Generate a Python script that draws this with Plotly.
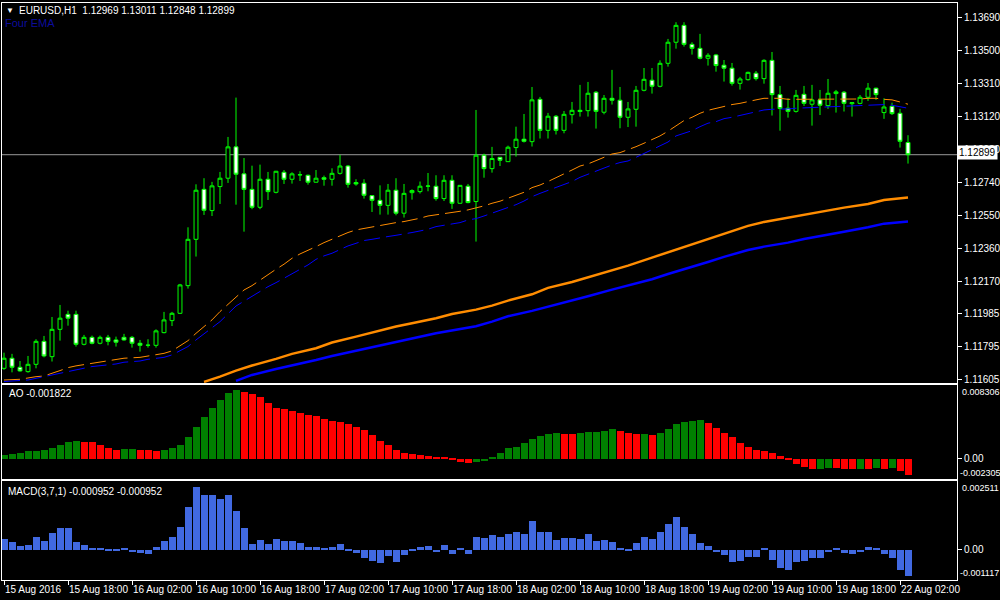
import plotly.graph_objects as go
from plotly.subplots import make_subplots

# EURUSD H1 bars, 15 Aug 10:00 .. 22 Aug 03:00 (index = bar number)
opens = [1.11672, 1.11730, 1.11678, 1.11653, 1.11695, 1.11827, 1.11739, 1.11896, 1.11982, 1.11982,
         1.11810, 1.11850, 1.11816, 1.11850, 1.11835, 1.11850, 1.11850, 1.11816, 1.11804, 1.11804,
         1.11877, 1.11946, 1.11988, 1.12147, 1.12413, 1.12700, 1.12578, 1.12716, 1.12764, 1.12944,
         1.12789, 1.12700, 1.12597, 1.12758, 1.12683, 1.12798, 1.12758, 1.12783, 1.12781, 1.12741,
         1.12767, 1.12758, 1.12792, 1.12834, 1.12739, 1.12735, 1.12664, 1.12637, 1.12608, 1.12695,
         1.12563, 1.12681, 1.12687, 1.12718, 1.12718, 1.12647, 1.12752, 1.12620, 1.12718, 1.12630,
         1.12896, 1.12819, 1.12884, 1.12859, 1.12940, 1.12988, 1.12974, 1.13217, 1.13039, 1.13120,
         1.13039, 1.13129, 1.13147, 1.13152, 1.13258, 1.13143, 1.13223, 1.13212, 1.13114, 1.13160,
         1.13269, 1.13327, 1.13292, 1.13424, 1.13545, 1.13642, 1.13533, 1.13510, 1.13453, 1.13472,
         1.13413, 1.13396, 1.13309, 1.13330, 1.13367, 1.13336, 1.13441, 1.13244, 1.13166, 1.13148,
         1.13246, 1.13189, 1.13214, 1.13181, 1.13250, 1.13258, 1.13192, 1.13194, 1.13229, 1.13281,
         1.13141, 1.13177, 1.13137, 1.12969]
highs = [1.11762, 1.11755, 1.11714, 1.11743, 1.11839, 1.11858, 1.11967, 1.12036, 1.12003, 1.12003,
         1.11864, 1.11860, 1.11860, 1.11864, 1.11854, 1.11870, 1.11858, 1.11835, 1.11839, 1.11896,
         1.11996, 1.11996, 1.12157, 1.12482, 1.12729, 1.12764, 1.12743, 1.12800, 1.13001, 1.13227,
         1.12880, 1.12836, 1.12842, 1.12800, 1.12806, 1.12811, 1.12798, 1.12804, 1.12785, 1.12811,
         1.12779, 1.12821, 1.12898, 1.12840, 1.12758, 1.12758, 1.12666, 1.12723, 1.12731, 1.12764,
         1.12731, 1.12700, 1.12745, 1.12794, 1.12781, 1.12781, 1.12781, 1.12725, 1.12731, 1.13156,
         1.12905, 1.12944, 1.12886, 1.12951, 1.13060, 1.13133, 1.13288, 1.13231, 1.13139, 1.13127,
         1.13150, 1.13202, 1.13300, 1.13317, 1.13265, 1.13242, 1.13386, 1.13288, 1.13202, 1.13294,
         1.13397, 1.13397, 1.13441, 1.13564, 1.13660, 1.13660, 1.13545, 1.13593, 1.13482, 1.13478,
         1.13443, 1.13426, 1.13346, 1.13376, 1.13380, 1.13447, 1.13489, 1.13294, 1.13223, 1.13271,
         1.13294, 1.13300, 1.13271, 1.13334, 1.13271, 1.13265, 1.13200, 1.13242, 1.13311, 1.13284,
         1.13223, 1.13198, 1.13162, 1.13011]
lows = [1.11663, 1.11649, 1.11653, 1.11647, 1.11672, 1.11735, 1.11711, 1.11831, 1.11917, 1.11797,
        1.11804, 1.11810, 1.11810, 1.11804, 1.11797, 1.11831, 1.11791, 1.11768, 1.11791, 1.11791,
        1.11873, 1.11915, 1.11984, 1.12130, 1.12314, 1.12553, 1.12547, 1.12616, 1.12737, 1.12612,
        1.12457, 1.12586, 1.12586, 1.12639, 1.12677, 1.12731, 1.12733, 1.12748, 1.12727, 1.12739,
        1.12721, 1.12721, 1.12785, 1.12710, 1.12721, 1.12647, 1.12570, 1.12555, 1.12555, 1.12551,
        1.12538, 1.12641, 1.12676, 1.12689, 1.12635, 1.12633, 1.12588, 1.12618, 1.12620, 1.12400,
        1.12767, 1.12796, 1.12834, 1.12857, 1.12888, 1.12969, 1.12946, 1.12992, 1.12992, 1.13015,
        1.13022, 1.13078, 1.13118, 1.13118, 1.13049, 1.13131, 1.13187, 1.13051, 1.13058, 1.13060,
        1.13263, 1.13250, 1.13286, 1.13405, 1.13508, 1.13520, 1.13474, 1.13447, 1.13411, 1.13376,
        1.13319, 1.13296, 1.13273, 1.13325, 1.13325, 1.13307, 1.13124, 1.13037, 1.13112, 1.13141,
        1.13179, 1.13066, 1.13127, 1.13162, 1.13141, 1.13147, 1.13118, 1.13189, 1.13208, 1.13214,
        1.13105, 1.13127, 1.12940, 1.12848]
closes = [1.11730, 1.11678, 1.11657, 1.11695, 1.11827, 1.11743, 1.11896, 1.11960, 1.11960, 1.11810,
          1.11850, 1.11816, 1.11850, 1.11827, 1.11822, 1.11835, 1.11816, 1.11804, 1.11805, 1.11887,
          1.11950, 1.11988, 1.12151, 1.12413, 1.12695, 1.12580, 1.12720, 1.12764, 1.12944, 1.12787,
          1.12700, 1.12597, 1.12758, 1.12687, 1.12804, 1.12758, 1.12789, 1.12784, 1.12741, 1.12764,
          1.12758, 1.12792, 1.12834, 1.12729, 1.12731, 1.12666, 1.12637, 1.12608, 1.12695, 1.12563,
          1.12677, 1.12693, 1.12718, 1.12719, 1.12647, 1.12752, 1.12620, 1.12723, 1.12624, 1.12896,
          1.12819, 1.12877, 1.12867, 1.12942, 1.12988, 1.12976, 1.13214, 1.13039, 1.13120, 1.13039,
          1.13131, 1.13154, 1.13154, 1.13252, 1.13148, 1.13223, 1.13212, 1.13114, 1.13162, 1.13269,
          1.13332, 1.13292, 1.13424, 1.13545, 1.13642, 1.13533, 1.13510, 1.13453, 1.13470, 1.13411,
          1.13396, 1.13309, 1.13334, 1.13372, 1.13336, 1.13441, 1.13244, 1.13164, 1.13148, 1.13240,
          1.13194, 1.13214, 1.13183, 1.13252, 1.13260, 1.13194, 1.13198, 1.13229, 1.13281, 1.13244,
          1.13173, 1.13135, 1.12976, 1.12899]
bars = list(range(len(closes)))

# Four EMA: two fast (thin dashed) and two slow (thick)
fast_orange_x = [0, 2, 4, 5, 7, 8, 9, 11, 12, 14, 15, 17, 18, 20, 21, 23, 24, 26, 27, 29] + list(range(30, 114))
fast_orange = [1.11605, 1.11609, 1.11624, 1.11628, 1.11659, 1.11676, 1.11686, 1.11701, 1.11707, 1.11720,
               1.11730, 1.11735, 1.11743, 1.11758, 1.11772, 1.11831, 1.11873, 1.11950, 1.11998, 1.12084,
               1.12122, 1.12147, 1.12180, 1.12208, 1.12241, 1.12270, 1.12304, 1.12329, 1.12348, 1.12371,
               1.12394, 1.12413, 1.12434, 1.12452, 1.12467, 1.12476, 1.12482, 1.12490, 1.12501, 1.12509,
               1.12515, 1.12524, 1.12534, 1.12547, 1.12553, 1.12563, 1.12566, 1.12574, 1.12582, 1.12593,
               1.12605, 1.12620, 1.12632, 1.12649, 1.12666, 1.12683, 1.12710, 1.12725, 1.12745, 1.12769,
               1.12789, 1.12811, 1.12834, 1.12846, 1.12865, 1.12888, 1.12903, 1.12911, 1.12926, 1.12945,
               1.12965, 1.12984, 1.13007, 1.13034, 1.13066, 1.13095, 1.13114, 1.13137, 1.13154, 1.13166,
               1.13179, 1.13187, 1.13194, 1.13206, 1.13214, 1.13223, 1.13225, 1.13223, 1.13217, 1.13217,
               1.13217, 1.13215, 1.13217, 1.13217, 1.13219, 1.13219, 1.13217, 1.13219, 1.13223, 1.13223,
               1.13217, 1.13214, 1.13202, 1.13189]
fast_blue_x = [0, 3, 5, 7, 8, 9, 11, 12, 14, 15, 17, 18, 20, 21, 23, 24, 26, 27, 29] + list(range(30, 114))
fast_blue = [1.11596, 1.11605, 1.11624, 1.11644, 1.11657, 1.11663, 1.11682, 1.11686, 1.11697, 1.11707,
             1.11714, 1.11724, 1.11735, 1.11749, 1.11797, 1.11835, 1.11902, 1.11940, 1.12030,
             1.12059, 1.12084, 1.12113, 1.12141, 1.12164, 1.12189, 1.12218, 1.12243, 1.12266, 1.12298,
             1.12318, 1.12333, 1.12356, 1.12375, 1.12390, 1.12406, 1.12413, 1.12419, 1.12429, 1.12436,
             1.12442, 1.12452, 1.12461, 1.12471, 1.12486, 1.12494, 1.12499, 1.12509, 1.12524, 1.12532,
             1.12547, 1.12563, 1.12578, 1.12593, 1.12612, 1.12633, 1.12658, 1.12677, 1.12693, 1.12712,
             1.12729, 1.12745, 1.12769, 1.12787, 1.12802, 1.12821, 1.12840, 1.12854, 1.12863, 1.12884,
             1.12907, 1.12926, 1.12949, 1.12972, 1.13007, 1.13022, 1.13037, 1.13060, 1.13080, 1.13089,
             1.13106, 1.13114, 1.13125, 1.13137, 1.13145, 1.13156, 1.13160, 1.13160, 1.13162, 1.13166,
             1.13168, 1.13171, 1.13173, 1.13175, 1.13179, 1.13179, 1.13181, 1.13183, 1.13185, 1.13187,
             1.13187, 1.13183, 1.13175, 1.13166]
slow_orange_x = [25, 27, 29, 31, 34, 36, 39, 41, 44, 46, 49, 51, 54, 56, 59, 61, 63, 66, 68, 71,
                 73, 76, 78, 81, 83, 86, 88, 90, 93, 95, 98, 100, 103, 105, 108, 110, 113]
slow_orange = [1.11594, 1.11624, 1.11659, 1.11688, 1.11726, 1.11755, 1.11787, 1.11820, 1.11854, 1.11879,
               1.11912, 1.11931, 1.11960, 1.11984, 1.12009, 1.12032, 1.12061, 1.12097, 1.12134, 1.12168,
               1.12195, 1.12237, 1.12262, 1.12308, 1.12339, 1.12385, 1.12417, 1.12446, 1.12490, 1.12513,
               1.12538, 1.12553, 1.12576, 1.12595, 1.12616, 1.12639, 1.12653]
slow_blue_x = [29, 31, 34, 36, 39, 41, 44, 46, 49, 51, 54, 56, 59, 61, 63, 66, 68, 71, 73, 76,
               78, 81, 83, 86, 88, 90, 93, 95, 98, 100, 103, 105, 108, 110, 113]
slow_blue = [1.11600, 1.11634, 1.11668, 1.11688, 1.11720, 1.11743, 1.11772, 1.11795, 1.11820, 1.11843,
             1.11873, 1.11891, 1.11914, 1.11940, 1.11971, 1.12002, 1.12025, 1.12061, 1.12086, 1.12124,
             1.12149, 1.12184, 1.12214, 1.12258, 1.12283, 1.12312, 1.12352, 1.12371, 1.12394, 1.12415,
             1.12438, 1.12457, 1.12482, 1.12503, 1.12515]

# Awesome Oscillator
ao = [0.00045, 0.00057, 0.00068, 0.00080, 0.00091, 0.00102, 0.00114, 0.00148, 0.00182, 0.00193,
      0.00191, 0.00182, 0.00159, 0.00125, 0.00102, 0.00103, 0.00104, 0.00101, 0.00092, 0.00090,
      0.00102, 0.00114, 0.00159, 0.00239, 0.00353, 0.00466, 0.00569, 0.00660, 0.00739, 0.00773,
      0.00750, 0.00728, 0.00694, 0.00625, 0.00569, 0.00557, 0.00534, 0.00512, 0.00497, 0.00478,
      0.00443, 0.00421, 0.00409, 0.00387, 0.00352, 0.00318, 0.00262, 0.00193, 0.00148, 0.00102,
      0.00068, 0.00057, 0.00045, 0.00034, 0.00023, 0.00011, -0.00011, -0.00034, -0.00045, -0.00034,
      -0.00023, 0.00023, 0.00068, 0.00114, 0.00136, 0.00171, 0.00216, 0.00250, 0.00273, 0.00284,
      0.00283, 0.00273, 0.00284, 0.00296, 0.00305, 0.00307, 0.00330, 0.00307, 0.00284, 0.00273,
      0.00276, 0.00262, 0.00284, 0.00330, 0.00387, 0.00409, 0.00421, 0.00432, 0.00398, 0.00341,
      0.00284, 0.00239, 0.00171, 0.00136, 0.00102, 0.00091, 0.00068, 0.00034, -0.00011, -0.00057,
      -0.00091, -0.00114, -0.00112, -0.00102, -0.00106, -0.00114, -0.00117, -0.00113, -0.00116, -0.00102,
      -0.00114, -0.00111, -0.00136, -0.001822]

# MACD(3,7,1) histogram
macd = [0.000396, 0.000285, 0.000136, 0.000173, 0.000470, 0.000322, 0.000619, 0.000805, 0.000805, 0.000285,
        0.000173, 0.000037, 0.000037, -0.000037, -0.000037, 0.000037, -0.000074, -0.000111, -0.000149, 0.000099,
        0.000322, 0.000470, 0.000842, 0.001548, 0.002290, 0.001993, 0.001993, 0.001845, 0.001993, 0.001399,
        0.000805, 0.000210, 0.000359, 0.000210, 0.000396, 0.000322, 0.000322, 0.000248, 0.000099, 0.000099,
        0.000062, 0.000099, 0.000210, -0.000037, -0.000111, -0.000297, -0.000409, -0.000483, -0.000223, -0.000446,
        -0.000186, -0.000037, 0.000099, 0.000136, -0.000074, 0.000173, -0.000149, 0.000037, -0.000149, 0.000470,
        0.000433, 0.000545, 0.000470, 0.000582, 0.000656, 0.000582, 0.001028, 0.000656, 0.000656, 0.000359,
        0.000433, 0.000433, 0.000396, 0.000582, 0.000322, 0.000359, 0.000285, 0.000025, -0.000037, 0.000248,
        0.000470, 0.000396, 0.000656, 0.000953, 0.001176, 0.000842, 0.000582, 0.000248, 0.000136, -0.000074,
        -0.000186, -0.000446, -0.000409, -0.000260, -0.000260, 0.000062, -0.000371, -0.000669, -0.000743, -0.000446,
        -0.000409, -0.000297, -0.000297, -0.000074, 0.000037, -0.000111, -0.000149, -0.000074, 0.000099, 0.000062,
        -0.000149, -0.000297, -0.000743, -0.000952]

time_tick_bars = [0, 8, 16, 24, 32, 40, 48, 56, 64, 72, 80, 88, 96, 104, 112]
time_tick_text = ["15 Aug 2016", "15 Aug 18:00", "16 Aug 02:00", "16 Aug 10:00", "16 Aug 18:00",
                  "17 Aug 02:00", "17 Aug 10:00", "17 Aug 18:00", "18 Aug 02:00", "18 Aug 10:00",
                  "18 Aug 18:00", "19 Aug 02:00", "19 Aug 10:00", "19 Aug 18:00", "22 Aug 02:00"]
price_ticks = [1.13690, 1.13500, 1.13310, 1.13120, 1.12930, 1.12740, 1.12550, 1.12360,
               1.12170, 1.11985, 1.11795, 1.11605]

FONT = "Liberation Sans"
W, H = 1000, 600
L, R, T, B = 2, 43, 3, 20


def px(x):
    return (x - L) / (W - L - R)


def py(y):
    return (H - B - y) / (H - T - B)


ao_colors = ["#008000"] + ["#008000" if ao[i] > ao[i - 1] else "#FF0000" for i in range(1, len(ao))]

fig = make_subplots(rows=3, cols=1, shared_xaxes=True)

fig.add_trace(go.Candlestick(
    x=bars, open=opens, high=highs, low=lows, close=closes,
    increasing=dict(line=dict(color="#00FF00", width=1), fillcolor="#000000"),
    decreasing=dict(line=dict(color="#00FF00", width=1), fillcolor="#FFFFFF"),
    hoverinfo="skip", showlegend=False), row=1, col=1)

fig.add_trace(go.Scatter(x=slow_orange_x, y=slow_orange, mode="lines",
                         line=dict(color="#FF8C00", width=2.5), showlegend=False), row=1, col=1)
fig.add_trace(go.Scatter(x=slow_blue_x, y=slow_blue, mode="lines",
                         line=dict(color="#0000FF", width=2.5), showlegend=False), row=1, col=1)
fig.add_trace(go.Scatter(x=fast_orange_x, y=fast_orange, mode="lines",
                         line=dict(color="#FF8C00", width=1, dash="16px,6px"), showlegend=False), row=1, col=1)
fig.add_trace(go.Scatter(x=fast_blue_x, y=fast_blue, mode="lines",
                         line=dict(color="#0000FF", width=1, dash="16px,6px"), showlegend=False), row=1, col=1)

fig.add_trace(go.Bar(x=bars, y=ao, marker=dict(color=ao_colors, line=dict(width=0)),
                     width=0.875, showlegend=False), row=2, col=1)
fig.add_trace(go.Bar(x=bars, y=macd, marker=dict(color="#4169E1", line=dict(width=0)),
                     width=0.875, showlegend=False), row=3, col=1)

xr = [(L - 4) / 8, (W - R - 4) / 8]
axis_common = dict(showgrid=False, zeroline=False, showline=True, mirror=True,
                   linecolor="#FFFFFF", linewidth=1)
for i in (1, 2, 3):
    fig.update_xaxes(range=xr, row=i, col=1, rangeslider_visible=False, **axis_common)
fig.update_xaxes(showticklabels=False, ticks="", row=1, col=1)
fig.update_xaxes(showticklabels=False, ticks="", row=2, col=1)
fig.update_xaxes(tickmode="array", tickvals=time_tick_bars, ticktext=time_tick_text,
                 ticks="outside", ticklen=4, tickcolor="#FFFFFF", ticklabelposition="outside right",
                 tickangle=0, tickfont=dict(family=FONT, size=10, color="#FFFFFF"), row=3, col=1)

yfont = dict(family=FONT, size=10, color="#FFFFFF")
fig.update_yaxes(range=[1.115877, 1.137704], side="right", tickmode="array", tickvals=price_ticks,
                 ticktext=["%.5f" % v for v in price_ticks], ticks="outside", ticklen=4,
                 tickcolor="#FFFFFF", tickfont=yfont, row=1, col=1, **axis_common)
fig.update_yaxes(range=[-0.002305, 0.008306], side="right", tickmode="array", tickvals=[0],
                 ticktext=["0.00"], ticks="outside", ticklen=4, tickcolor="#FFFFFF",
                 tickfont=yfont, row=2, col=1, **axis_common)
fig.update_yaxes(range=[-0.001117, 0.002511], side="right", tickmode="array", tickvals=[0],
                 ticktext=["0.00"], ticks="outside", ticklen=4, tickcolor="#FFFFFF",
                 tickfont=yfont, row=3, col=1, **axis_common)

fig.update_layout(
    yaxis=dict(domain=[py(383), 1]),
    yaxis2=dict(domain=[py(479), py(385)]),
    yaxis3=dict(domain=[0, py(481)]),
)

# bid line
fig.add_shape(type="line", xref="x domain", yref="y", x0=0, x1=1, y0=closes[-1], y1=closes[-1],
              line=dict(color="#9A9A9A", width=1), layer="below")


def label(x, y, text, color="#FFFFFF", size=10, anchor="left", **kw):
    fig.add_annotation(x=px(x), y=py(y), xref="paper", yref="paper", text=text, showarrow=False,
                       xanchor=anchor, yanchor="middle", font=dict(family=FONT, size=size, color=color), **kw)


label(4, 10, "▼", size=8)
label(17, 10, "EURUSD,H1  1.12969 1.13011 1.12848 1.12899")
label(3, 23, "Four EMA", color="#0C0C9C", size=11)
label(7, 393, "AO -0.001822")
label(6, 491, "MACD(3,7,1) -0.000952 -0.000952")
label(960, 392, "0.008306", size=9)
label(958, 473, "-0.002305", size=9)
label(960, 488, "0.002511", size=9)
label(958, 573, "-0.001117", size=9)
label(957, 152.5, "1.12899", color="#000000", bgcolor="#FFFFFF", borderpad=1)

fig.update_layout(
    width=W, height=H,
    margin=dict(l=L, r=R, t=T, b=B, autoexpand=False),
    paper_bgcolor="#000000", plot_bgcolor="#000000",
    bargap=0, showlegend=False,
    font=dict(family=FONT, color="#FFFFFF"),
)

fig.write_html("out.html", config={"displayModeBar": False},
               post_script="document.body.style.margin='0';document.body.style.background='#000';")
